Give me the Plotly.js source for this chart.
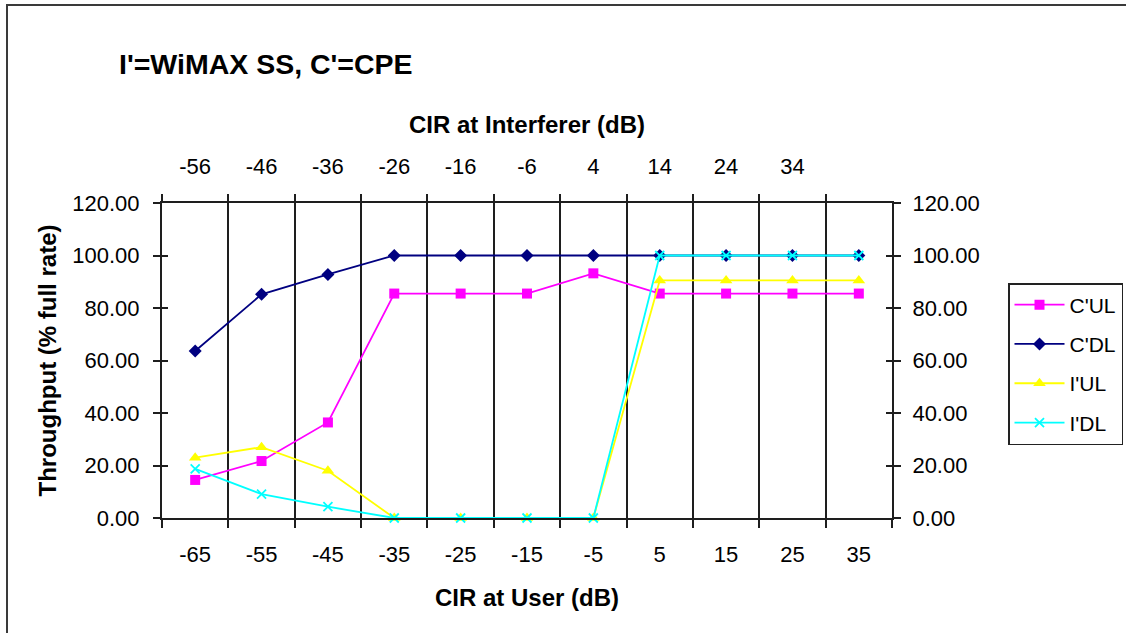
<!DOCTYPE html>
<html>
<head>
<meta charset="utf-8">
<script src="https://cdn.plot.ly/plotly-3.0.1.min.js"></script>
<style>
  html, body { margin: 0; padding: 0; background: #fff; overflow: hidden; }
  #wrap { position: relative; width: 1126px; height: 633px; }
  #chart { position: absolute; left: 0; top: 0; width: 1126px; height: 633px; }
  #frame { position: absolute; left: 6px; top: 4px; width: 1300px; height: 800px;
           border: 2px solid #3a3a3a; pointer-events: none; }
</style>
</head>
<body>
<div id="wrap">
  <div id="chart"></div>
  <div id="frame"></div>
</div>
<script>
// ---- data ----
const userCIR = ['-65', '-55', '-45', '-35', '-25', '-15', '-5', '5', '15', '25', '35'];
const interfCIR = ['-56', '-46', '-36', '-26', '-16', '-6', '4', '14', '24', '34'];
const cUL = [14.5, 21.7, 36.4, 85.5, 85.5, 85.5, 93.2, 85.5, 85.5, 85.5, 85.5];
const cDL = [63.6, 85.2, 92.8, 100, 100, 100, 100, 100, 100, 100, 100];
const iUL = [23.0, 27.0, 18.0, 0, 0, 0, 0, 90.5, 90.5, 90.5, 90.5];
const iDL = [18.7, 9.1, 4.3, 0, 0, 0, 0, 100, 100, 100, 100];
const seriesNames = ["C'UL", "C'DL", "I'UL", "I'DL"];

const FONT = 'Liberation Sans, Arial, sans-serif';
const AX = '#1e1e1e';

function series(name, y, color, symbol, size, extra) {
  return Object.assign({
    type: 'scatter', mode: 'lines+markers', name: name,
    x: userCIR, y: y, xaxis: 'x', yaxis: 'y',
    legendgroup: name,
    line: { color: color, width: 1.8 },
    marker: { color: color, symbol: symbol, size: size, line: { width: 0 } },
    cliponaxis: false
  }, extra || {});
}

const traces = [
  series(seriesNames[0], cUL, '#FF00FF', 'square', 10),
  series(seriesNames[1], cDL, '#000080', 'diamond', 10),
  series(seriesNames[2], iUL, '#FFFF00', 'triangle-up', 11),
  series(seriesNames[3], iDL, '#00FFFF', 'x-thin', 9,
         { marker: { color: '#00FFFF', symbol: 'x-thin', size: 9, line: { color: '#00FFFF', width: 1.8 } } }),
  // helpers so the top axis and the secondary y axes are built
  { type: 'scatter', mode: 'lines', x: interfCIR, y: interfCIR.map(() => null),
    xaxis: 'x2', yaxis: 'y2', showlegend: false, hoverinfo: 'skip' },
  { type: 'scatter', mode: 'lines', x: userCIR, y: userCIR.map(() => null),
    xaxis: 'x', yaxis: 'y3', showlegend: false, hoverinfo: 'skip' },
  { type: 'scatter', mode: 'lines', x: userCIR, y: userCIR.map(() => null),
    xaxis: 'x', yaxis: 'y4', showlegend: false, hoverinfo: 'skip' }
];

const tickFont = { family: FONT, size: 22, color: '#000' };
const titleFont = { family: FONT, size: 24, color: '#000', weight: 'bold' };

const yBase = {
  range: [0, 120], dtick: 20, tick0: 0, tickformat: '.2f',
  showgrid: false, zeroline: false, fixedrange: true
};

const layout = {
  width: 1126, height: 633, autosize: false,
  margin: { l: 162, r: 234, t: 203, b: 115, pad: 0, autoexpand: false },
  paper_bgcolor: '#fff', plot_bgcolor: '#fff',
  font: { family: FONT, color: '#000' },
  title: {
    text: "I'=WiMAX SS, C'=CPE",
    x: 119 / 1126, xanchor: 'left', xref: 'container',
    y: 1 - 64 / 633, yanchor: 'middle', yref: 'container',
    font: { family: FONT, size: 28.5, color: '#000', weight: 'bold' }
  },
  showlegend: true,
  legend: {
    xref: 'container', yref: 'container',
    x: 1008 / 1126, xanchor: 'left',
    y: 1 - 283 / 633, yanchor: 'top',
    bgcolor: '#fff', bordercolor: '#222', borderwidth: 1.5,
    font: { family: FONT, size: 21, color: '#000' },
    itemwidth: 50, tracegroupgap: 9, traceorder: 'grouped'
  },
  xaxis: {
    type: 'category', categoryorder: 'array', categoryarray: userCIR,
    range: [-0.5, 10.5], tickson: 'boundaries',
    ticks: 'outside', ticklen: 8, tickwidth: 2, tickcolor: AX,
    showline: true, linecolor: AX, linewidth: 2, mirror: false,
    showgrid: false, zeroline: false, tickfont: tickFont,
    ticklabelstandoff: 16,
    title: { text: 'CIR at User (dB)', font: titleFont, standoff: 23 },
    anchor: 'y', fixedrange: true
  },
  xaxis2: {
    type: 'category', categoryorder: 'array', categoryarray: interfCIR,
    range: [-0.5, 10.5], tickson: 'boundaries',
    overlaying: 'x', side: 'top', anchor: 'y',
    ticks: 'outside', ticklen: 7, tickwidth: 2, tickcolor: AX,
    showline: true, linecolor: AX, linewidth: 2,
    showgrid: true, gridcolor: AX, gridwidth: 2, zeroline: false,
    tickfont: tickFont, ticklabelstandoff: 18,
    title: { text: 'CIR at Interferer (dB)', font: titleFont, standoff: 14 },
    fixedrange: true
  },
  yaxis: Object.assign({}, yBase, {
    side: 'left', anchor: 'x',
    ticks: 'outside', ticklen: 7, tickwidth: 2, tickcolor: AX,
    showline: true, linecolor: AX, linewidth: 2,
    tickfont: tickFont, ticklabelstandoff: 9,
    title: { text: 'Throughput (% full rate)', font: titleFont, standoff: 9 }
  }),
  yaxis2: Object.assign({}, yBase, {
    overlaying: 'y', side: 'right', anchor: 'x',
    ticks: 'outside', ticklen: 7, tickwidth: 2, tickcolor: AX,
    showline: true, linecolor: AX, linewidth: 2,
    tickfont: tickFont, ticklabelstandoff: 7
  }),
  yaxis3: Object.assign({}, yBase, {
    overlaying: 'y', side: 'left', anchor: 'x',
    ticks: 'inside', ticklen: 6, tickwidth: 2, tickcolor: AX,
    showline: false, showticklabels: false
  }),
  yaxis4: Object.assign({}, yBase, {
    overlaying: 'y', side: 'right', anchor: 'x',
    ticks: 'inside', ticklen: 6, tickwidth: 2, tickcolor: AX,
    showline: false, showticklabels: false
  })
};

Plotly.newPlot('chart', traces, layout, { staticPlot: true, displayModeBar: false });
</script>
</body>
</html>
